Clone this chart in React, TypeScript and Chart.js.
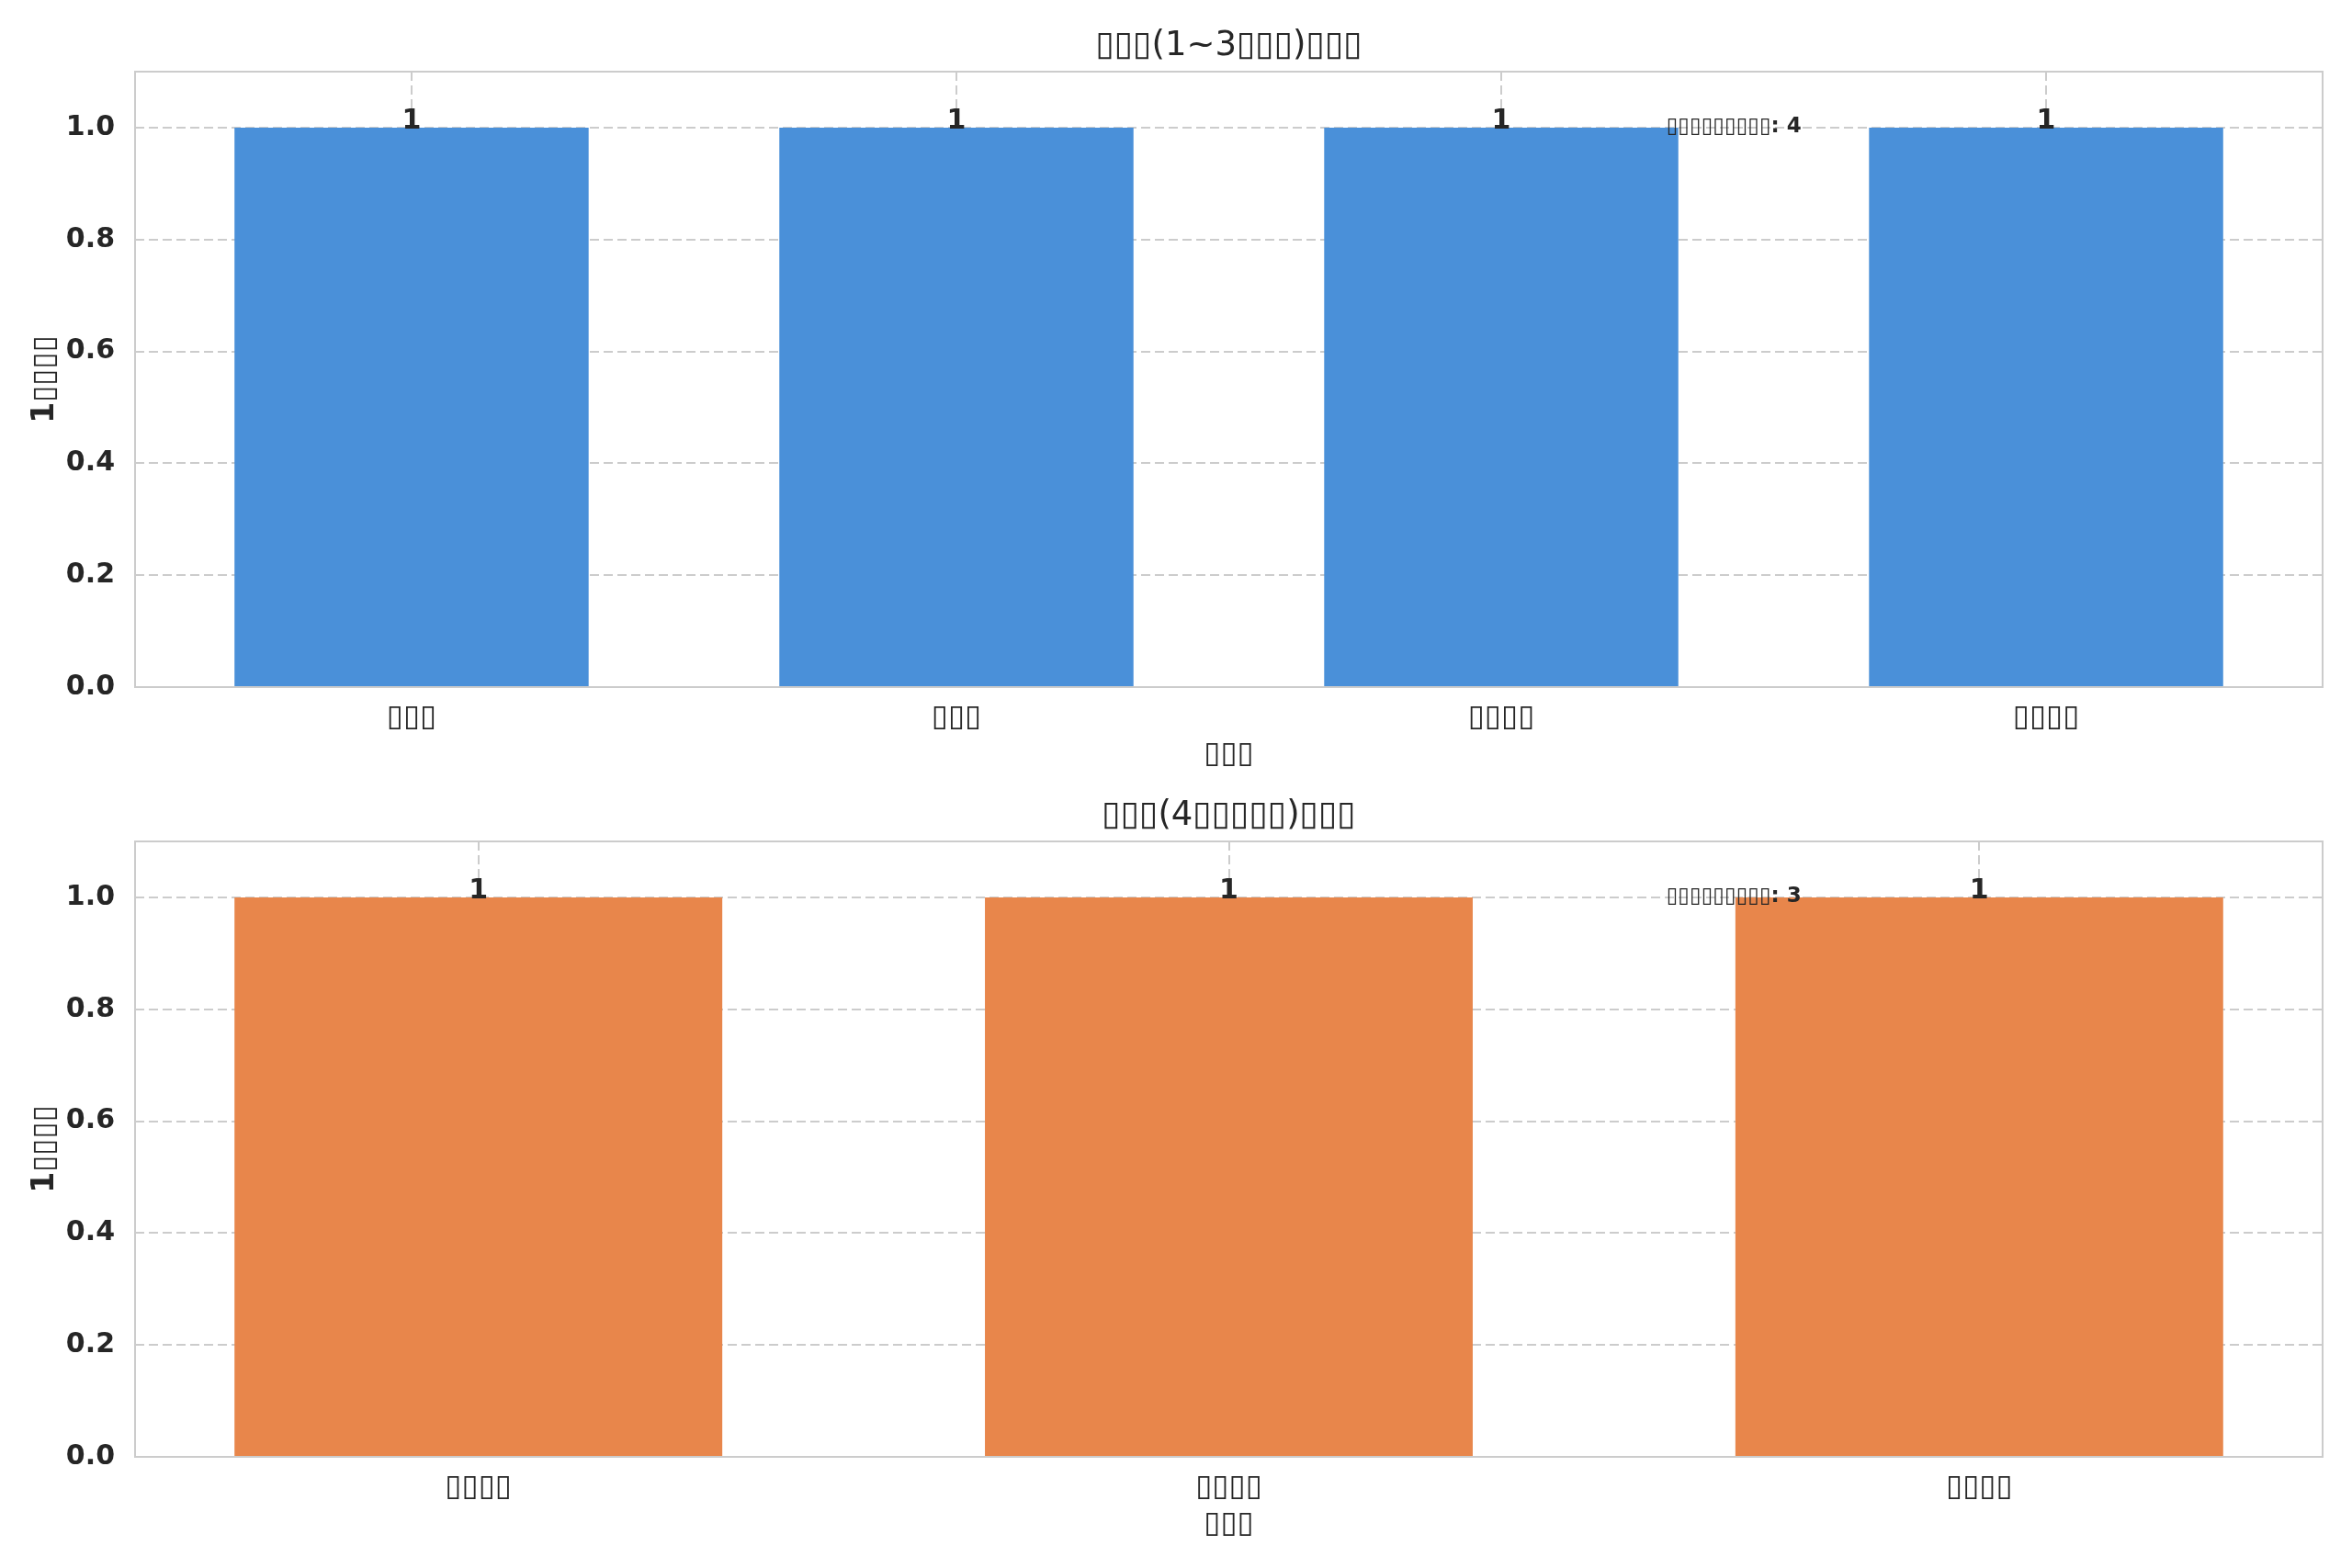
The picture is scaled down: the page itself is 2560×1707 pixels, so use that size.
import { useEffect, useRef } from "react";
import { Chart, registerables } from "chart.js";

Chart.register(...registerables);

// glyphs in the reference are missing-glyph boxes, kept as box characters
const topCategories = ["▯▯▯", "▯▯▯", "▯▯▯▯", "▯▯▯▯"];
const topValues = [1, 1, 1, 1];
const bottomCategories = ["▯▯▯▯", "▯▯▯▯", "▯▯▯▯"];
const bottomValues = [1, 1, 1];
const yTickValues = [0, 0.2, 0.4, 0.6, 0.8, 1.0];

const topTitle = "▯▯▯(1~3▯▯▯)▯▯▯";
const bottomTitle = "▯▯▯(4▯▯▯▯▯)▯▯▯";
const xTitle = "▯▯▯";
const yTitle = "1▯▯▯▯";
const noteLabel = "▯▯▯▯▯▯▯▯▯";

const FONT = "'DejaVu Sans', sans-serif";
const INK = "#262626";
const GRID = "#cccccc";
const BAR_W = 0.65;

interface PanelProps {
  title: string;
  categories: string[];
  values: number[];
  color: string;
  top: number;
  height: number;
  padTop: number;
  xAxisHeight: number;
}

const Panel: React.FC<PanelProps> = ({ title, categories, values, color, top, height, padTop, xAxisHeight }) => {
  const canvasRef = useRef<HTMLCanvasElement>(null);

  useEffect(() => {
    if (!canvasRef.current) return;
    const n = categories.length;
    const margin = BAR_W / 2 + 0.05 * (n - 1 + BAR_W);

    const decor = {
      id: "decor",
      afterDatasetsDraw(chart: Chart) {
        const { ctx, chartArea: a } = chart;
        ctx.save();
        ctx.strokeStyle = GRID;
        ctx.lineWidth = 2;
        ctx.strokeRect(a.left, a.top, a.right - a.left, a.bottom - a.top);

        ctx.fillStyle = INK;
        ctx.textAlign = "center";
        ctx.textBaseline = "alphabetic";
        ctx.font = `bold 30px ${FONT}`;
        chart.getDatasetMeta(0).data.forEach((bar: any, i: number) => {
          ctx.fillText(String(values[i]), bar.x, bar.y + 1);
        });

        const cx = (a.left + a.right) / 2;
        ctx.textBaseline = "middle";
        ctx.font = `37px ${FONT}`;
        ctx.fillText(title, cx, a.top - 28);

        ctx.font = `bold 33px ${FONT}`;
        ctx.fillText(xTitle, cx, a.bottom + 73);

        ctx.save();
        ctx.translate(49, (a.top + a.bottom) / 2);
        ctx.rotate(-Math.PI / 2);
        ctx.fillText(yTitle, 0, 0);
        ctx.restore();

        ctx.font = `bold 23px ${FONT}`;
        ctx.textAlign = "left";
        ctx.fillText(`${noteLabel}: ${n}`, a.left + 0.7 * (a.right - a.left), a.top + 60);
        ctx.restore();
      },
    };

    const chart = new Chart(canvasRef.current, {
      type: "bar",
      data: {
        datasets: [
          {
            data: values.map((v, i) => ({ x: i, y: v })),
            backgroundColor: color,
            borderWidth: 0,
            barPercentage: BAR_W,
            categoryPercentage: 1,
          },
        ],
      },
      options: {
        responsive: false,
        animation: false,
        layout: { padding: { top: padTop, right: 32, left: 0, bottom: 0 } },
        plugins: { legend: { display: false }, tooltip: { enabled: false }, title: { display: false } },
        scales: {
          x: {
            type: "linear",
            offset: false,
            min: -margin,
            max: n - 1 + margin,
            bounds: "data",
            afterBuildTicks: (scale: any) => {
              scale.ticks = categories.map((_, i) => ({ value: i }));
            },
            afterFit: (scale: any) => {
              scale.height = xAxisHeight;
            },
            ticks: {
              autoSkip: false,
              maxRotation: 0,
              padding: 14,
              color: INK,
              font: { family: FONT, size: 33 },
              callback: (v: any) => categories[Math.round(Number(v))] ?? "",
            },
            grid: { color: GRID, lineWidth: 2, drawTicks: false, offset: false },
            border: { display: false, dash: [10, 5] },
          },
          y: {
            min: 0,
            max: 1.1,
            afterBuildTicks: (scale: any) => {
              scale.ticks = yTickValues.map((value) => ({ value }));
            },
            afterFit: (scale: any) => {
              scale.width = 147;
            },
            ticks: {
              padding: 22,
              color: INK,
              font: { family: FONT, size: 30, weight: "bold" },
              callback: (v: any) => Number(v).toFixed(1),
            },
            grid: { color: GRID, lineWidth: 2, drawTicks: false },
            border: { display: false, dash: [10, 5] },
          },
        },
      },
      plugins: [decor],
    } as any);

    return () => {
      chart.destroy();
    };
  }, [title, categories, values, color, padTop, xAxisHeight]);

  return (
    <canvas
      ref={canvasRef}
      width={2560}
      height={height}
      style={{ position: "absolute", left: 0, top, width: 2560, height, display: "block" }}
    />
  );
};

export default function App() {
  useEffect(() => {
    document.body.style.margin = "0";
  }, []);

  return (
    <div style={{ position: "relative", width: 2560, height: 1707, background: "#ffffff", overflow: "hidden" }}>
      <Panel
        title={topTitle}
        categories={topCategories}
        values={topValues}
        color="#4a90d9"
        top={0}
        height={853}
        padTop={78}
        xAxisHeight={105}
      />
      <Panel
        title={bottomTitle}
        categories={bottomCategories}
        values={bottomValues}
        color="#e8864b"
        top={853}
        height={854}
        padTop={63}
        xAxisHeight={121}
      />
    </div>
  );
}
